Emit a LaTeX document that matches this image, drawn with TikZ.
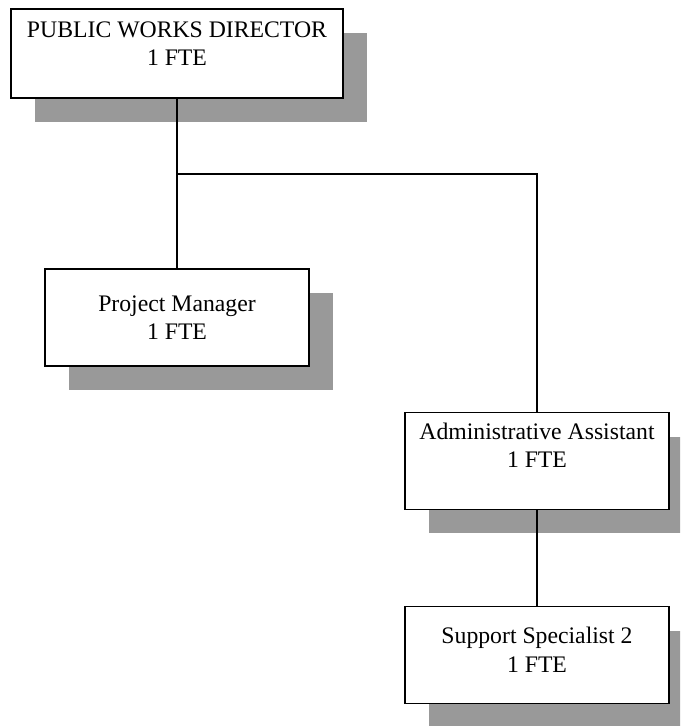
\documentclass[tikz,border=0pt]{standalone}
\usepackage{fontspec}
\setmainfont{Liberation Serif}
\usetikzlibrary{shadows}

\begin{document}
\begin{tikzpicture}[x=0.02cm, y=-0.02cm]
\tikzset{poste/.style={draw, line width=0.9pt, fill=white, align=center,
  font=\fontsize{13.5}{16}\selectfont, minimum width=5.28cm, minimum height=1.94cm,
  drop shadow={shadow xshift=0.48cm, shadow yshift=-0.48cm, opacity=1, fill=black!40}}}
\useasboundingbox (0,0) rectangle (680,726);
\clip (0,0) rectangle (680,726);
\node[poste, minimum width=6.64cm, minimum height=1.78cm, text depth=11pt] (dir) at (177,53.5) {PUBLIC WORKS DIRECTOR\\1 FTE};
\node[poste] (pm) at (177,317.5) {Project Manager\\1 FTE};
\node[poste, text depth=18pt] (adm) at (537,461) {Administrative Assistant\\1 FTE};
\node[poste, text depth=6pt] (sup) at (537,655) {Support Specialist 2\\1 FTE};
\coordinate (split) at (177,174);
\draw[line width=0.8pt] (dir.south) -- (split);
\draw[line width=0.8pt] (split) -- (pm.north);
\draw[line width=0.8pt] (split) -| (adm.north);
\draw[line width=0.8pt] (adm.south) -- (sup.north);
\end{tikzpicture}
\end{document}
